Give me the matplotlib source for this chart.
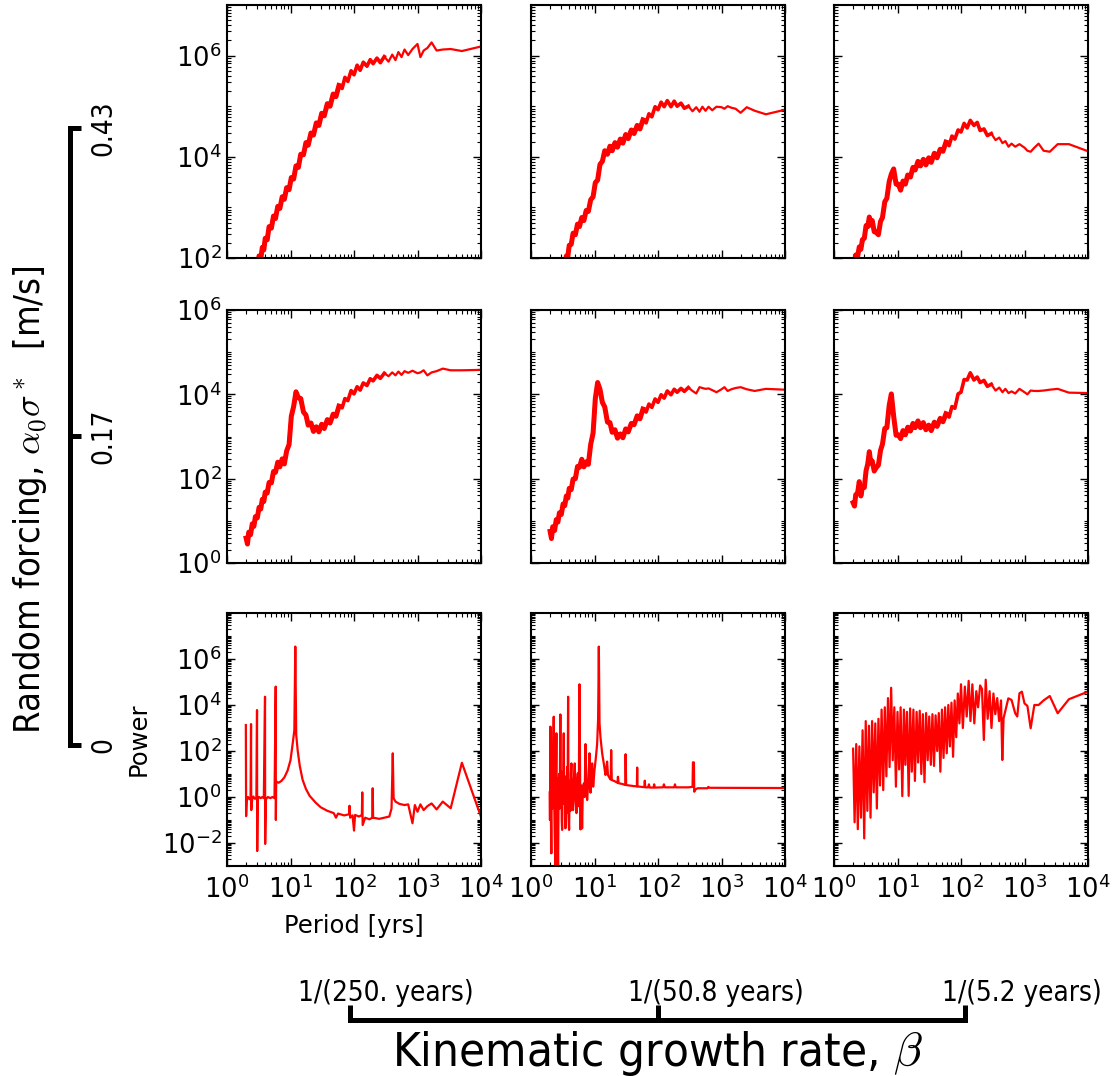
import numpy as np
import matplotlib
matplotlib.use('Agg')
import matplotlib.pyplot as plt
from matplotlib.ticker import LogLocator, FixedLocator, NullFormatter

plt.rcParams['font.family'] = ['DejaVu Sans']
plt.rcParams['mathtext.fontset'] = 'cm'

# -------- data: period [yrs]; power kept as log10 values
period_grid = [2.0, 2.1, 2.2, 2.35, 2.5, 2.65, 2.8, 3.0, 3.2, 3.4,
               3.6, 3.8, 4.0, 4.3, 4.6, 5.0, 5.4, 5.8, 6.3, 6.8,
               7.4, 8.0, 8.7, 9.5, 10.3, 11.2, 12.2, 13.3, 14.5, 16,
               17.5, 19, 21, 23, 25.5, 28, 31, 34, 38, 42,
               47, 52, 58, 65, 72, 80, 90, 100, 112, 125,
               140, 160, 180, 200, 230, 260, 300, 350, 400, 450,
               500, 560, 625, 714, 833, 1000, 1111, 1250, 1429, 1667,
               2000, 2500, 3333, 5000, 10000]

logpow_r1c1 = [1.42, 1.34, 1.54, 1.49, 1.71, 1.65, 1.86, 1.81, 2.04, 1.98,
               2.21, 2.16, 2.39, 2.36, 2.62, 2.59, 2.83, 2.78, 3.02, 2.98,
               3.21, 3.16, 3.39, 3.35, 3.59, 3.56, 3.82, 3.79, 4.05, 4.04,
               4.28, 4.23, 4.47, 4.43, 4.67, 4.62, 4.86, 4.81, 5.05, 5.00,
               5.24, 5.19, 5.41, 5.35, 5.57, 5.49, 5.70, 5.62, 5.81, 5.71,
               5.87, 5.79, 5.92, 5.84, 5.95, 5.86, 5.98, 5.88, 6.02, 5.91,
               6.07, 5.97, 6.12, 6.01, 6.13, 6.23, 5.97, 6.10, 6.15, 6.26,
               6.10, 6.12, 6.13, 6.09, 6.18]
logpow_r1c2 = [1.01, 0.97, 1.18, 1.18, 1.41, 1.39, 1.61, 1.61, 1.84, 1.83,
               2.04, 2.03, 2.25, 2.27, 2.49, 2.46, 2.67, 2.62, 2.80, 2.74,
               2.94, 2.92, 3.15, 3.21, 3.49, 3.54, 3.85, 3.91, 4.12, 4.05,
               4.21, 4.12, 4.28, 4.19, 4.35, 4.27, 4.44, 4.36, 4.53, 4.46,
               4.62, 4.55, 4.73, 4.67, 4.85, 4.79, 4.99, 4.93, 5.08, 4.99,
               5.11, 4.99, 5.10, 5.00, 5.06, 4.96, 5.00, 4.90, 4.98, 4.89,
               4.99, 4.91, 4.99, 4.92, 4.99, 4.98, 4.95, 5.00, 4.97, 4.95,
               4.87, 4.98, 4.91, 4.84, 4.93]
logpow_r1c3 = [1.94, 1.88, 2.06, 2.02, 2.22, 2.17, 2.36, 2.39, 2.64, 2.62,
               2.81, 2.65, 2.74, 2.52, 2.51, 2.46, 2.72, 2.80, 3.11, 3.18,
               3.51, 3.66, 3.76, 3.46, 3.46, 3.34, 3.52, 3.46, 3.64, 3.60,
               3.79, 3.74, 3.91, 3.82, 3.95, 3.84, 3.98, 3.89, 4.07, 3.98,
               4.15, 4.11, 4.29, 4.22, 4.41, 4.35, 4.53, 4.49, 4.66, 4.57,
               4.72, 4.62, 4.68, 4.52, 4.55, 4.42, 4.46, 4.33, 4.38, 4.27,
               4.31, 4.20, 4.26, 4.20, 4.25, 4.18, 4.12, 4.10, 4.18, 4.26,
               4.12, 4.10, 4.25, 4.25, 4.11]
logpow_r2c1 = [0.59, 0.45, 0.73, 0.67, 0.93, 0.87, 1.10, 1.07, 1.32, 1.28,
               1.51, 1.46, 1.68, 1.66, 1.91, 1.90, 2.17, 2.15, 2.39, 2.28,
               2.47, 2.35, 2.66, 2.81, 3.48, 3.71, 4.06, 3.92, 3.90, 3.58,
               3.51, 3.27, 3.32, 3.12, 3.23, 3.11, 3.29, 3.19, 3.40, 3.32,
               3.53, 3.48, 3.72, 3.68, 3.90, 3.85, 4.09, 4.01, 4.18, 4.10,
               4.27, 4.21, 4.37, 4.32, 4.45, 4.38, 4.50, 4.43, 4.52, 4.45,
               4.54, 4.46, 4.55, 4.51, 4.56, 4.50, 4.52, 4.57, 4.45, 4.52,
               4.55, 4.61, 4.57, 4.57, 4.58]
logpow_r2c2 = [0.75, 0.58, 0.86, 0.77, 1.03, 0.97, 1.19, 1.15, 1.40, 1.36,
               1.59, 1.54, 1.77, 1.74, 1.99, 2.00, 2.29, 2.27, 2.46, 2.28,
               2.40, 2.34, 2.81, 3.08, 3.90, 4.28, 4.12, 3.81, 3.70, 3.34,
               3.33, 3.10, 3.16, 2.96, 3.06, 2.97, 3.18, 3.11, 3.31, 3.28,
               3.49, 3.42, 3.65, 3.58, 3.77, 3.69, 3.89, 3.81, 3.99, 3.91,
               4.08, 3.99, 4.12, 4.05, 4.14, 4.07, 4.16, 4.08, 4.02, 4.17,
               4.15, 4.13, 4.14, 4.10, 4.05, 4.12, 4.17, 4.08, 4.12, 4.15,
               4.17, 4.12, 4.08, 4.13, 4.11]
logpow_r2c3 = [1.43, 1.35, 1.62, 1.65, 1.93, 1.59, 1.81, 1.79, 2.19, 2.35,
               2.64, 2.37, 2.42, 2.18, 2.26, 2.32, 2.67, 2.82, 3.19, 3.21,
               3.74, 4.01, 3.48, 3.03, 3.04, 2.95, 3.14, 3.04, 3.22, 3.13,
               3.31, 3.21, 3.37, 3.21, 3.33, 3.16, 3.27, 3.14, 3.34, 3.24,
               3.43, 3.35, 3.54, 3.46, 3.71, 3.67, 4.01, 4.05, 4.35, 4.34,
               4.51, 4.34, 4.41, 4.28, 4.33, 4.19, 4.24, 4.09, 4.16, 4.05,
               4.13, 4.03, 4.07, 4.02, 4.13, 4.05, 4.00, 4.09, 4.08, 4.08,
               4.09, 4.11, 4.13, 4.04, 4.03]

period_r3c1 = [1.98, 2.0, 2.05, 2.15, 2.25, 2.35, 2.39, 2.41, 2.5, 2.6,
               2.75, 2.9, 2.97, 2.99, 3.05, 3.2, 3.4, 3.6, 3.8, 3.97,
               3.99, 4.1, 4.4, 4.8, 5.2, 5.6, 5.85, 5.88, 5.95, 6.5,
               7.2, 8.0, 9.0, 10.0, 10.8, 11.5, 11.9, 12.3, 13.0, 14.0,
               15.5, 17.5, 20, 25, 30, 38, 48, 52, 56, 70,
               84, 85, 87, 95, 100, 104, 120, 133, 135, 137,
               150, 175, 194, 197, 200, 250, 300, 360, 390, 408,
               420, 450, 520, 625, 714, 833, 909, 1000, 1111, 1250,
               1429, 1667, 2000, 2500, 3333, 5000, 10000]
logpow_r3c1 = [3.13, -0.83, -0.05, 0.0, -0.1, -0.05, 3.17, -0.57, -0.05, 0.02,
               -0.08, -0.05, 3.78, -2.35, -0.1, 0.0, -0.05, 0.0, -0.05, 4.36,
               -2.04, -0.1, 0.0, -0.05, 0.0, -0.05, 4.80, -1.0, 0.67, 0.62,
               0.7, 0.85, 1.15, 1.6, 2.3, 2.9, 6.54, 2.7, 2.0, 1.35,
               0.75, 0.35, 0.05, -0.25, -0.45, -0.6, -0.7, -0.9, -0.72, -0.8,
               -0.75, -0.38, -0.9, -0.8, -1.46, -0.78, -0.85, -0.78, 0.2, -1.22,
               -0.9, -0.97, -0.9, 0.38, -0.9, -0.95, -0.9, -0.85, -0.5, 1.90,
               -0.05, -0.2, -0.3, -0.35, -0.32, -1.14, -0.35, -0.64, -0.32, -0.57,
               -0.4, -0.28, -0.54, -0.2, -0.49, 1.49, -0.86]

period_r3c2 = [1.97, 1.99, 2.02, 2.05, 2.09, 2.12, 2.17, 2.22, 2.28, 2.32,
               2.36, 2.42, 2.46, 2.51, 2.54, 2.57, 2.62, 2.67, 2.72, 2.77,
               2.83, 2.90, 2.95, 3.01, 3.05, 3.09, 3.15, 3.20, 3.28, 3.33,
               3.40, 3.48, 3.55, 3.61, 3.70, 3.77, 3.84, 3.90, 3.98, 4.08,
               4.18, 4.25, 4.33, 4.45, 4.60, 4.75, 4.89, 5.05, 5.20, 5.35,
               5.46, 5.58, 5.66, 5.80, 6.01, 6.2, 6.38, 6.55, 6.79, 7.0,
               7.21, 7.45, 7.66, 8.0, 8.34, 8.65, 8.9, 9.19, 9.53, 10.0,
               10.5, 11.0, 11.4, 11.7, 12.0, 12.4, 13.2, 14.0, 14.9, 15.3,
               15.8, 16.3, 17.5, 18.0, 18.3, 18.7, 21, 23.0, 23.4, 24,
               28, 30.5, 30.9, 31.5, 40, 46.5, 47, 47.5, 55, 61,
               62, 63, 70, 72, 74, 85, 87, 89, 120, 124,
               128, 180, 185, 190, 300, 350, 355, 368, 372, 390,
               420, 600, 620, 650, 10000]
logpow_r3c2 = [0.2, -1.0, 3.06, -0.3, -2.45, 0.6, -0.5, 1.2, 3.49, -0.2,
               -1.5, -3.1, 0.4, 2.77, -0.6, 0.8, -1.3, -3.1, 0.3, 1.0,
               -0.5, 3.59, -0.4, 1.1, -1.0, -1.43, 0.6, -0.2, 2.77, -0.3,
               0.9, -1.36, 0.5, -0.7, 1.3, -0.4, 4.36, -0.8, -1.43, 0.7,
               -0.6, 1.0, 1.46, -0.3, -0.57, 0.8, 1.46, -0.2, -0.7, 0.6,
               1.03, -0.4, 0.2, 4.90, -1.41, 0.5, -1.36, 0.3, 0.59, 0.0,
               2.30, 0.3, -0.13, 0.7, 1.90, 0.19, 1.0, 1.46, 0.45, 1.17,
               1.7, 2.3, 3.4, 6.54, 3.2, 2.62, 1.9, 1.46, 0.96, 1.2,
               1.54, 0.95, 0.8, 0.76, 2.04, 0.74, 0.68, 0.62, 0.88, 0.6,
               0.56, 0.52, 1.86, 0.52, 0.48, 0.46, 1.28, 0.46, 0.44, 0.43,
               0.71, 0.42, 0.42, 0.55, 0.41, 0.41, 0.55, 0.41, 0.42, 0.55,
               0.42, 0.42, 0.55, 0.42, 0.42, 0.44, 1.51, 1.5, 0.23, 0.33,
               0.38, 0.38, 0.44, 0.40, 0.39]

period_r3c3 = [2.00, 2.11, 2.24, 2.37, 2.51, 2.66, 2.82, 2.99, 3.16, 3.35,
               3.55, 3.76, 3.98, 4.22, 4.47, 4.73, 5.01, 5.31, 5.62, 5.96,
               6.31, 6.68, 7.08, 7.50, 7.94, 8.41, 8.91, 9.44, 10.0, 10.6,
               11.2, 11.9, 12.6, 13.3, 14.1, 15.0, 15.8, 16.8, 17.8, 18.8,
               20.0, 21.1, 22.4, 23.7, 25.1, 26.6, 28.2, 29.9, 31.6, 33.5,
               35.5, 37.6, 39.8, 42.2, 44.7, 47.3, 50.1, 53.1, 56.2, 59.6,
               63.1, 66.8, 70.8, 75.0, 79.4, 84.1, 89.1, 94.4, 100,
               107, 115, 123, 132, 141, 151, 162, 174, 186, 200,
               214, 229, 245, 263, 282, 302, 324, 347, 372, 398,
               427, 447, 468, 556, 625, 714, 769, 833, 909, 1000,
               1111, 1250, 1429, 1667, 2000, 2500, 3333, 5000, 10000]
logpow_r3c3 = [2.1, -1.1, 2.3, -1.4, 2.2, -0.9, 2.9, -1.8, 3.3, -0.6,
               3.1, -0.9, 3.3, 0.2, 3.2, -0.5, 3.4, 0.5, 3.8, 0.3,
               3.9, 0.9, 4.3, 1.3, 4.75, 1.6, 3.9, 0.45, 3.7, 1.2,
               3.9, 0.04, 3.8, 1.4, 3.7, 0.05, 3.85, 1.1, 3.8, 0.7,
               3.7, 1.5, 3.75, 1.0, 3.6, 0.65, 3.65, 1.6, 3.5, 1.4,
               3.6, 1.35, 3.55, 2.0, 3.65, 1.1, 3.8, 1.7, 3.9, 1.9,
               4.0, 2.2, 4.1, 1.75, 4.2, 2.6, 4.5, 3.2, 4.9,
               3.0, 4.8, 3.5, 5.05, 3.3, 4.9, 3.2, 4.6, 3.9, 4.85,
               4.7, 2.48, 5.1, 3.4, 4.6, 3.0, 4.5, 3.6, 4.3, 3.3,
               4.2, 1.61, 3.42, 4.29, 4.22, 3.64, 3.5, 4.51, 4.58, 4.07,
               3.96, 2.99, 4.0, 4.0, 4.2, 4.39, 3.64, 4.25, 4.58]

forcing_ticks = ['0', '0.17', '0.43']
growth_ticks = ['1/(250. years)', '1/(50.8 years)', '1/(5.2 years)']

panels = [[(period_grid, logpow_r1c1), (period_grid, logpow_r1c2), (period_grid, logpow_r1c3)],
          [(period_grid, logpow_r2c1), (period_grid, logpow_r2c2), (period_grid, logpow_r2c3)],
          [(period_r3c1, logpow_r3c1), (period_r3c2, logpow_r3c2), (period_r3c3, logpow_r3c3)]]

row_ylim = [(1e2, 1e7), (1e0, 1e6), (1e-3, 1e8)]
row_yticks = [[1e2, 1e4, 1e6], [1e0, 1e2, 1e4, 1e6], [1e-2, 1e0, 1e2, 1e4, 1e6]]

# -------- layout (pixels of the 1113 x 1076 canvas)
W, H = 1113., 1076.
col_left = [227, 531, 834]
row_top = [5, 310, 613]
pw, ph = 254, 253

fig = plt.figure(figsize=(W / 100, H / 100), dpi=100)

for r in range(3):
    for c in range(3):
        ax = fig.add_axes([col_left[c] / W, 1 - (row_top[r] + ph) / H, pw / W, ph / H])
        per = np.array(panels[r][c][0])
        pwr = np.power(10.0, panels[r][c][1])
        ax.plot(per, pwr, color='r', lw=1.6)
        if r < 2:
            # the densely sampled short periods show up as a thick noisy band
            dense = per <= 300
            ax.plot(per[dense], pwr[dense], color='r', lw=2.6)
            dense = per <= 60
            ax.plot(per[dense], pwr[dense], color='r', lw=3.6)
        ax.set_xscale('log')
        ax.set_yscale('log')
        ax.set_xlim(1, 1e4)
        ax.set_ylim(row_ylim[r])
        ax.yaxis.set_major_locator(FixedLocator(row_yticks[r]))
        ax.yaxis.set_minor_locator(LogLocator(base=10, subs=(1, 2, 3, 4, 5, 6, 7, 8, 9), numticks=50))
        ax.xaxis.set_major_locator(LogLocator(base=10, numticks=10))
        ax.xaxis.set_minor_locator(LogLocator(base=10, subs=(2, 3, 4, 5, 6, 7, 8, 9), numticks=50))
        ax.xaxis.set_minor_formatter(NullFormatter())
        ax.yaxis.set_minor_formatter(NullFormatter())
        ax.tick_params(which='both', direction='in', top=True, right=True, labelsize=18.5)
        ax.tick_params(which='major', length=5.5, width=1.0)
        ax.tick_params(which='minor', length=3, width=0.8)
        ax.tick_params(axis='y', pad=4)
        ax.tick_params(axis='x', pad=7)
        for s in ax.spines.values():
            s.set_linewidth(1.5)
        if c > 0:
            ax.tick_params(which='both', labelleft=False)
        if r < 2:
            ax.tick_params(which='both', labelbottom=False)
        if r == 2 and c == 0:
            ax.set_xlabel('Period [yrs]', fontsize=17.5, labelpad=7)
            ax.set_ylabel('Power', fontsize=17.5, labelpad=8)

# -------- left scale bar: random forcing
axl = fig.add_axes([60 / W, 1 - 745 / H, 10 / W, 617 / H])
axl.patch.set_visible(False)
for s in ['left', 'top', 'bottom']:
    axl.spines[s].set_visible(False)
axl.spines['right'].set_linewidth(3.6)
axl.set_xticks([])
axl.set_ylim(0, 2)
axl.yaxis.tick_right()
axl.set_yticks([0, 1, 2])
axl.set_yticklabels(forcing_ticks, rotation=90, va='center', fontstretch='condensed')
axl.tick_params(axis='y', direction='out', length=8, width=3.6, labelsize=20, pad=6)

fig.text(30 / W, 1 - 500 / H, r'Random forcing, $\alpha_0\sigma^*$  [m/s]', rotation=90,
         ha='center', va='center', fontsize=26, fontstretch='condensed')

# -------- bottom scale bar: kinematic growth rate
axb = fig.add_axes([350 / W, 1 - 1030 / H, 615 / W, 10 / H])
axb.patch.set_visible(False)
for s in ['left', 'right', 'bottom']:
    axb.spines[s].set_visible(False)
axb.spines['top'].set_linewidth(3.6)
axb.set_yticks([])
axb.set_xlim(0, 2)
axb.xaxis.tick_top()
axb.set_xticks([0, 1, 2])
axb.set_xticklabels([])
axb.tick_params(axis='x', direction='out', length=11, width=3.6)

for lbl, xc in zip(growth_ticks, [386, 716, 1022]):
    fig.text(xc / W, 1 - 993 / H, lbl, ha='center', va='center', fontsize=20, fontstretch='condensed')

fig.text(657 / W, 1 - 1066 / H, r'Kinematic growth rate, $\beta$', ha='center', va='baseline',
         fontsize=34, fontstretch='condensed')

fig.savefig('out.png', dpi=100)
